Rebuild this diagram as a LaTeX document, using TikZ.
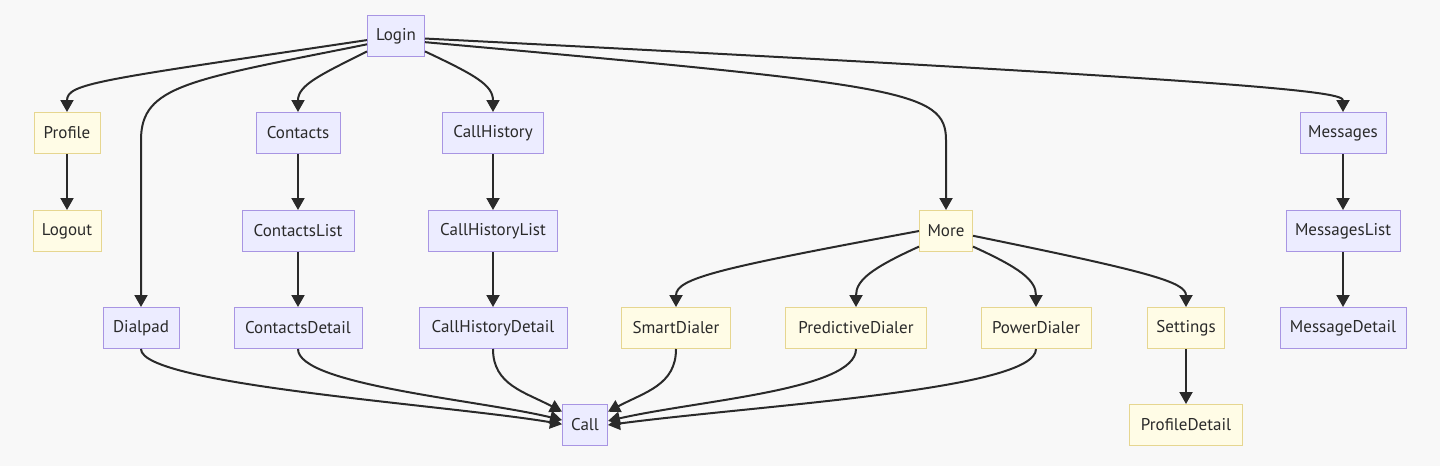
\documentclass[tikz,border=0pt]{standalone}
\usepackage{fontspec}
\setmainfont{PT Sans}
\usetikzlibrary{arrows.meta}

\definecolor{bgcol}{HTML}{F8F8F8}
\definecolor{purplefill}{HTML}{ECECFF}
\definecolor{purpleline}{HTML}{A895E3}
\definecolor{yellowfill}{HTML}{FFFCE6}
\definecolor{yellowline}{HTML}{E6D690}
\definecolor{inkcol}{HTML}{2A2A2A}

\tikzset{
	screen/.style={shape=rectangle, draw=purpleline, fill=purplefill, line width=1pt,
		minimum height=41pt, inner xsep=6pt, text=inkcol,
		font=\fontsize{17}{20}\selectfont},
	extra/.style={screen, draw=yellowline, fill=yellowfill},
	flow/.style={draw=inkcol, line width=2pt, -{Triangle[width=13pt,length=12pt]}}
}

\begin{document}
\begin{tikzpicture}[x=1pt, y=-1pt]
	
	\fill[bgcol] (0,0) rectangle (1440,466);
	\useasboundingbox (0,0) rectangle (1440,466);
	
	\node[screen, minimum width=57pt] (Login) at (396, 36) {Login};
	\node[extra, minimum width=66pt] (Profile) at (67, 133) {Profile};
	\node[extra, minimum width=68pt] (Logout) at (67, 231) {Logout};
	\node[screen, minimum width=84pt] (Contacts) at (298, 133) {Contacts};
	\node[screen, minimum width=112pt] (ContactsList) at (298, 231) {ContactsList};
	\node[screen, minimum width=101pt] (CallHistory) at (493, 133) {CallHistory};
	\node[screen, minimum width=129pt] (CallHistoryList) at (493, 231) {CallHistoryList};
	\node[extra, minimum width=53pt] (More) at (946, 231) {More};
	\node[screen, minimum width=86pt] (Messages) at (1343, 133) {Messages};
	\node[screen, minimum width=114pt] (MessagesList) at (1343, 231) {MessagesList};
	\node[screen, minimum width=76pt] (Dialpad) at (141, 328) {Dialpad};
	\node[screen, minimum width=128pt] (ContactsDetail) at (298, 328) {ContactsDetail};
	\node[screen, minimum width=148pt] (CallHistoryDetail) at (493, 328) {CallHistoryDetail};
	\node[extra, minimum width=109pt] (SmartDialer) at (676, 328) {SmartDialer};
	\node[extra, minimum width=141pt] (PredictiveDialer) at (856, 328) {PredictiveDialer};
	\node[extra, minimum width=110pt] (PowerDialer) at (1036, 328) {PowerDialer};
	\node[extra, minimum width=77pt] (Settings) at (1186, 328) {Settings};
	\node[screen, minimum width=126pt] (MessageDetail) at (1343, 328) {MessageDetail};
	\node[extra, minimum width=113pt] (ProfileDetail) at (1186, 425) {ProfileDetail};
	\node[screen, minimum width=45pt] (Call) at (585, 425) {Call};

	\draw[flow] (Login.188) .. controls (100,80) and (67,83) .. (Profile.north);
	\draw[flow] (Login.196) .. controls (190,80) and (141,85) .. (141,140) -- (Dialpad.north);
	\draw[flow] (Login.208) .. controls (320,75) and (298,85) .. (Contacts.north);
	\draw[flow] (Login.332) .. controls (475,75) and (493,85) .. (CallHistory.north);
	\draw[flow] (Login.348) .. controls (900,85) and (946,90) .. (946,140) -- (More.north);
	\draw[flow] (Login.355) .. controls (1280,82) and (1343,92) .. (Messages.north);

	\draw[flow] (Profile) -- (Logout);
	\draw[flow] (Contacts) -- (ContactsList);
	\draw[flow] (ContactsList) -- (ContactsDetail);
	\draw[flow] (CallHistory) -- (CallHistoryList);
	\draw[flow] (CallHistoryList) -- (CallHistoryDetail);
	\draw[flow] (Messages) -- (MessagesList);
	\draw[flow] (MessagesList) -- (MessageDetail);
	\draw[flow] (Settings) -- (ProfileDetail);

	\draw[flow] (More.west) .. controls (720,268) and (676,278) .. (SmartDialer.north);
	\draw[flow] (More.210) .. controls (872,268) and (856,280) .. (PredictiveDialer.north);
	\draw[flow] (More.330) .. controls (1020,268) and (1036,280) .. (PowerDialer.north);
	\draw[flow] (More.350) .. controls (1150,272) and (1186,282) .. (Settings.north);

	\draw[flow] (Dialpad.south) .. controls (141,385) and (450,405) .. (Call.178);
	\draw[flow] (ContactsDetail.south) .. controls (298,385) and (480,400) .. (Call.168);
	\draw[flow] (CallHistoryDetail.south) .. controls (493,385) and (525,392) .. (Call.150);
	\draw[flow] (SmartDialer.south) .. controls (676,385) and (645,392) .. (Call.30);
	\draw[flow] (PredictiveDialer.south) .. controls (856,390) and (700,400) .. (Call.10);
	\draw[flow] (PowerDialer.south) .. controls (1036,390) and (760,405) .. (Call.0);
	
\end{tikzpicture}
\end{document}
